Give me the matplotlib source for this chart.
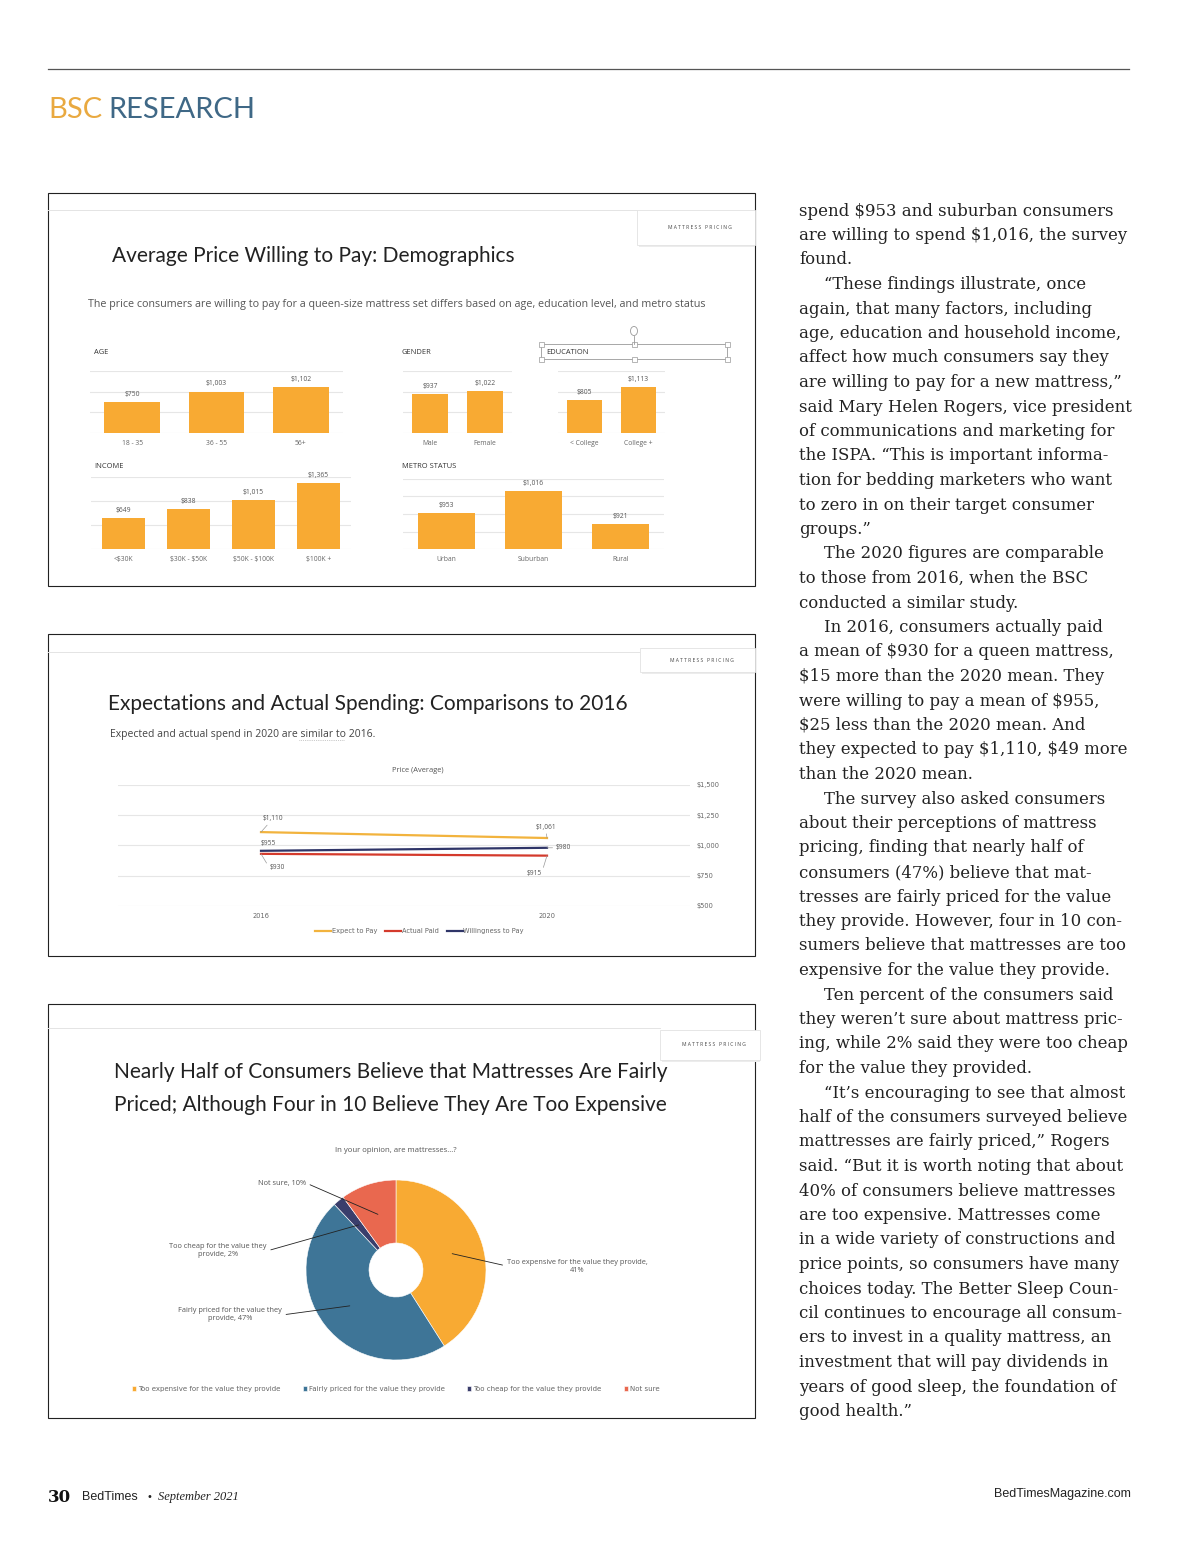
import numpy as np
import matplotlib
matplotlib.use('Agg')
import matplotlib.pyplot as plt
from matplotlib.patches import Rectangle, Circle
from matplotlib.lines import Line2D

plt.rcParams['text.parse_math'] = False

W, H = 1200, 1553

# --- chart data ---
age_cats = ['18 - 35', '36 - 55', '56+']
age_vals = [750, 1003, 1102]
gender_cats = ['Male', 'Female']
gender_vals = [937, 1022]
edu_cats = ['< College', 'College +']
edu_vals = [805, 1113]
income_cats = ['<$30K', '$30K - $50K', '$50K - $100K', '$100K +']
income_vals = [649, 838, 1015, 1365]
metro_cats = ['Urban', 'Suburban', 'Rural']
metro_vals = [953, 1016, 921]

years = ['2016', '2020']
expect_pay = [1110, 1061]
actual_paid = [930, 915]
willing_pay = [955, 980]
price_ticks = [500, 750, 1000, 1250, 1500]

opinion_labels = ['Too expensive for the value they provide',
                  'Fairly priced for the value they provide',
                  'Too cheap for the value they provide',
                  'Not sure']
opinion_pcts = [41, 47, 2, 10]

article = [
    (0, 'spend $953 and suburban consumers'),
    (0, 'are willing to spend $1,016, the survey'),
    (0, 'found.'),
    (1, '\u201cThese findings illustrate, once'),
    (0, 'again, that many factors, including'),
    (0, 'age, education and household income,'),
    (0, 'affect how much consumers say they'),
    (0, 'are willing to pay for a new mattress,\u201d'),
    (0, 'said Mary Helen Rogers, vice president'),
    (0, 'of communications and marketing for'),
    (0, 'the ISPA. \u201cThis is important informa-'),
    (0, 'tion for bedding marketers who want'),
    (0, 'to zero in on their target consumer'),
    (0, 'groups.\u201d'),
    (1, 'The 2020 figures are comparable'),
    (0, 'to those from 2016, when the BSC'),
    (0, 'conducted a similar study.'),
    (1, 'In 2016, consumers actually paid'),
    (0, 'a mean of $930 for a queen mattress,'),
    (0, '$15 more than the 2020 mean. They'),
    (0, 'were willing to pay a mean of $955,'),
    (0, '$25 less than the 2020 mean. And'),
    (0, 'they expected to pay $1,110, $49 more'),
    (0, 'than the 2020 mean.'),
    (1, 'The survey also asked consumers'),
    (0, 'about their perceptions of mattress'),
    (0, 'pricing, finding that nearly half of'),
    (0, 'consumers (47%) believe that mat-'),
    (0, 'tresses are fairly priced for the value'),
    (0, 'they provide. However, four in 10 con-'),
    (0, 'sumers believe that mattresses are too'),
    (0, 'expensive for the value they provide.'),
    (1, 'Ten percent of the consumers said'),
    (0, 'they weren\u2019t sure about mattress pric-'),
    (0, 'ing, while 2% said they were too cheap'),
    (0, 'for the value they provided.'),
    (1, '\u201cIt\u2019s encouraging to see that almost'),
    (0, 'half of the consumers surveyed believe'),
    (0, 'mattresses are fairly priced,\u201d Rogers'),
    (0, 'said. \u201cBut it is worth noting that about'),
    (0, '40% of consumers believe mattresses'),
    (0, 'are too expensive. Mattresses come'),
    (0, 'in a wide variety of constructions and'),
    (0, 'price points, so consumers have many'),
    (0, 'choices today. The Better Sleep Coun-'),
    (0, 'cil continues to encourage all consum-'),
    (0, 'ers to invest in a quality mattress, an'),
    (0, 'investment that will pay dividends in'),
    (0, 'years of good sleep, the foundation of'),
    (0, 'good health.\u201d'),
]

ORANGE = '#F8AA33'
BLUE = '#3E7597'
NAVY = '#3A3E6C'
SALMON = '#E9684F'
GRID = '#e6e6e6'
SANS = 'Open Sans'
TITLE = 'Lato'

fig = plt.figure(figsize=(12, 15.53), dpi=100)


def px_axes(x0, y0, x1, y1):
    return fig.add_axes([x0 / W, 1 - y1 / H, (x1 - x0) / W, (y1 - y0) / H])


def ftext(x, y, s, **kw):
    return fig.text(x / W, 1 - y / H, s, **kw)


def fline(x0, y0, x1, y1, **kw):
    fig.add_artist(Line2D([x0 / W, x1 / W], [1 - y0 / H, 1 - y1 / H],
                          transform=fig.transFigure, **kw))


def frect(x0, y0, x1, y1, **kw):
    fig.add_artist(Rectangle((x0 / W, 1 - y1 / H), (x1 - x0) / W, (y1 - y0) / H,
                             transform=fig.transFigure, **kw))


def pricing_tab(x0, y0, x1, y1):
    frect(x0 + 2, y0 + 2, x1, y1 + 2, facecolor='#ececec', edgecolor='none')
    frect(x0, y0, x1, y1, facecolor='white', edgecolor='#e2e2e2', lw=0.6)
    ftext((x0 + x1) / 2 + 4, (y0 + y1) / 2, 'M A T T R E S S   P R I C I N G',
          fontsize=3.6, color='#444', ha='center', va='center', family=SANS)


def bar_panel(box, cats, vals, lo, hi, step):
    ax = px_axes(*box)
    ax.patch.set_alpha(0)
    pos = np.arange(len(cats))
    ax.bar(pos, vals, width=0.66, color=ORANGE, zorder=2)
    for p, v in zip(pos, vals):
        ax.annotate(f'${v:,}', (p, v), xytext=(0, 3), textcoords='offset points',
                    ha='center', va='bottom', fontsize=4.9, color='#555', family=SANS)
    ax.set_xlim(-0.5, len(cats) - 0.5)
    ax.set_ylim(lo, hi)
    ax.set_yticks(np.arange(lo, hi + 1, step))
    ax.yaxis.grid(True, color=GRID, lw=0.8, zorder=0)
    ax.set_yticklabels([])
    ax.set_xticks(pos)
    ax.set_xticklabels(cats, fontsize=4.9, color='#666', family=SANS)
    ax.tick_params(length=0, pad=5)
    for s in ax.spines.values():
        s.set_visible(False)
    return ax


# --- page header ---
fline(48, 69, 1129, 69, color='#555', lw=0.9)
ftext(48, 110, 'BSC', fontsize=21, color='#E9A940', family=TITLE, va='center')
ftext(108, 110, 'RESEARCH', fontsize=21, color='#3F6886', family=TITLE, va='center')

# --- panel 1: demographics ---
frect(48, 193, 755, 586, facecolor='none', edgecolor='#222', lw=0.8)
fline(48, 210, 637, 210, color='#e4e4e4', lw=0.7)
pricing_tab(637, 210, 755, 245)
ftext(112, 256, 'Average Price Willing to Pay: Demographics', fontsize=15,
      color='#222', family=TITLE, va='center')
ftext(88, 305, 'The price consumers are willing to pay for a queen-size mattress set '
      'differs based on age, education level, and metro status',
      fontsize=7.75, color='#555', family=SANS, va='center')

ftext(94, 352, 'AGE', fontsize=5.4, color='#333', family=SANS, va='center')
ftext(402, 352, 'GENDER', fontsize=5.4, color='#333', family=SANS, va='center')
ftext(94, 466, 'INCOME', fontsize=5.4, color='#333', family=SANS, va='center')
ftext(402, 466, 'METRO STATUS', fontsize=5.4, color='#333', family=SANS, va='center')

# selected text box around EDUCATION
frect(541, 344, 727, 359, facecolor='none', edgecolor='#999', lw=0.6)
fline(634, 336, 634, 344, color='#999', lw=0.6)
fig.add_artist(Circle((634 / W, 1 - 331 / H), 3.5 / W, transform=fig.transFigure,
                      facecolor='white', edgecolor='#999', lw=0.6))
for hx in (541, 634, 727):
    for hy in (344, 359):
        frect(hx - 2.5, hy - 2.5, hx + 2.5, hy + 2.5, facecolor='white',
              edgecolor='#999', lw=0.5)
ftext(546, 352, 'EDUCATION', fontsize=5.4, color='#333', family=SANS, va='center')

bar_panel((90, 371, 343, 433), age_cats, age_vals, 0, 1500, 500)
bar_panel((403, 371, 512, 433), gender_cats, gender_vals, 0, 1500, 500)
bar_panel((558, 371, 665, 433), edu_cats, edu_vals, 0, 1500, 500)
bar_panel((91, 477, 351, 549), income_cats, income_vals, 0, 1500, 500)
bar_panel((403, 479, 664, 549), metro_cats, metro_vals, 850, 1050, 50)

# --- panel 2: expectations vs actual ---
frect(48, 634, 755, 956, facecolor='none', edgecolor='#222', lw=0.8)
fline(48, 652, 640, 652, color='#e4e4e4', lw=0.7)
pricing_tab(640, 648, 755, 672)
ftext(108, 704, 'Expectations and Actual Spending: Comparisons to 2016', fontsize=15,
      color='#222', family=TITLE, va='center')
ftext(110, 735, 'Expected and actual spend in 2020 are similar to 2016.',
      fontsize=7.5, color='#444', family=SANS, va='center')
fline(299, 740, 344, 740, color='#999', lw=0.5, ls=':')
ftext(418, 771, 'Price (Average)', fontsize=5.4, color='#555', family=SANS,
      ha='center', va='center')

ax2 = px_axes(118, 785, 690, 906)
ax2.patch.set_alpha(0)
xp = np.arange(len(years))
ax2.plot(xp, expect_pay, color='#F2B33D', lw=1.6, label='Expect to Pay')
ax2.plot(xp, actual_paid, color='#D43A2C', lw=1.6, label='Actual Paid')
ax2.plot(xp, willing_pay, color='#2F3568', lw=1.6, label='Willingness to Pay')
ax2.set_xlim(-0.5, 1.5)
ax2.set_ylim(price_ticks[0] - 2, price_ticks[-1])
ax2.set_yticks(price_ticks)
ax2.set_yticklabels([f'${v:,}' for v in price_ticks])
ax2.yaxis.tick_right()
ax2.yaxis.grid(True, color=GRID, lw=0.8)
ax2.set_xticks(xp)
ax2.set_xticklabels(years)
ax2.tick_params(length=0, labelsize=4.8, labelcolor='#666', pad=5)
for s in ax2.spines.values():
    s.set_visible(False)

lead = dict(arrowstyle='-', color='#999', lw=0.5, shrinkA=0, shrinkB=0)
lab = dict(textcoords='offset points', fontsize=4.8, color='#555', family=SANS)
ax2.annotate(f'${expect_pay[0]:,}', (0, expect_pay[0]), xytext=(1, 7), ha='left',
             va='bottom', arrowprops=lead, **lab)
ax2.annotate(f'${expect_pay[1]:,}', (1, expect_pay[1]), xytext=(-1, 5), ha='center',
             va='bottom', arrowprops=lead, **lab)
ax2.annotate(f'${willing_pay[0]:,}', (0, willing_pay[0]), xytext=(0, 3), ha='left',
             va='bottom', **lab)
ax2.annotate(f'${willing_pay[1]:,}', (1, willing_pay[1]), xytext=(6, 0), ha='left',
             va='center', arrowprops=lead, **lab)
ax2.annotate(f'${actual_paid[0]:,}', (0, actual_paid[0]), xytext=(6, -10), ha='left',
             va='center', arrowprops=dict(lead, relpos=(0, 0.5)), **lab)
ax2.annotate(f'${actual_paid[1]:,}', (1, actual_paid[1]), xytext=(-4, -13), ha='right',
             va='center', arrowprops=dict(lead, relpos=(1, 0.5)), **lab)
ax2.legend(loc='center', bbox_to_anchor=(0.527, -0.21), ncol=3, frameon=False,
           fontsize=4.8, handlelength=2.4, handletextpad=0.1, columnspacing=1.2,
           labelcolor='#666')

# --- panel 3: opinion donut ---
frect(48, 1004, 755, 1418, facecolor='none', edgecolor='#222', lw=0.8)
fline(48, 1028, 660, 1028, color='#e4e4e4', lw=0.7)
pricing_tab(660, 1030, 760, 1060)
ftext(114, 1072, 'Nearly Half of Consumers Believe that Mattresses Are Fairly',
      fontsize=15, color='#222', family=TITLE, va='center')
ftext(114, 1105, 'Priced; Although Four in 10 Believe They Are Too Expensive',
      fontsize=15, color='#222', family=TITLE, va='center')
ftext(396, 1150, 'In your opinion, are mattresses...?', fontsize=5.6, color='#555',
      family=SANS, ha='center', va='center')

ax3 = px_axes(306, 1180, 486, 1360)
wedges, _ = ax3.pie(opinion_pcts, colors=[ORANGE, BLUE, NAVY, SALMON], startangle=90,
                    counterclock=False, radius=1,
                    wedgeprops=dict(width=0.7, edgecolor='white', linewidth=0.4))
ax3.set_xlim(-1, 1)
ax3.set_ylim(-1, 1)
ax3.set_aspect('equal')

label_pos = [(577, 1266, 'center', (0, 0.5)),
             (230, 1315, 'center', (1, 0.5)),
             (218, 1251, 'center', (1, 0.5)),
             (306, 1183, 'right', (1, 0.5))]
label_txt = ['Too expensive for the value they provide,\n41%',
             'Fairly priced for the value they\nprovide, 47%',
             'Too cheap for the value they\nprovide, 2%',
             'Not sure, 10%']
for w, (tx, ty, ha, rp), t in zip(wedges, label_pos, label_txt):
    ang = np.deg2rad((w.theta1 + w.theta2) / 2)
    ax3.annotate(t, (0.65 * np.cos(ang), 0.65 * np.sin(ang)), xytext=(tx, H - ty),
                 textcoords='figure pixels', ha=ha, va='center', fontsize=5.3,
                 color='#555', family=SANS, multialignment='center',
                 arrowprops=dict(arrowstyle='-', color='#222', lw=0.6, relpos=rp,
                                 shrinkA=1, shrinkB=0))
ax3.legend(wedges, opinion_labels, loc='center', bbox_to_anchor=(0.5, -0.16), ncol=4,
           frameon=False, fontsize=5.0, handlelength=0.6, handleheight=0.6,
           handletextpad=0.3, columnspacing=3.2, labelcolor='#666')

# --- article column ---
for i, (indent, line) in enumerate(article):
    ftext(799 + 25 * indent, 211 + i * 24.5, line, fontsize=11.9, color='#222',
          family='DejaVu Serif', va='center')

# --- footer ---
ftext(48, 1497, '30', fontsize=12, fontweight='bold', family='DejaVu Serif',
      color='#111', va='center')
ftext(82, 1497, 'BedTimes', fontsize=9, family='Liberation Sans', color='#222',
      va='center')
ftext(147, 1497, '\u2022', fontsize=7, family='DejaVu Sans', color='#222', va='center')
ftext(158, 1497, 'September 2021', fontsize=9, family='Liberation Serif',
      style='italic', color='#222', va='center')
ftext(1131, 1494, 'BedTimesMagazine.com', fontsize=9, family='Liberation Sans',
      color='#222', ha='right', va='center')

fig.savefig('out.png', dpi=100, facecolor='white')
